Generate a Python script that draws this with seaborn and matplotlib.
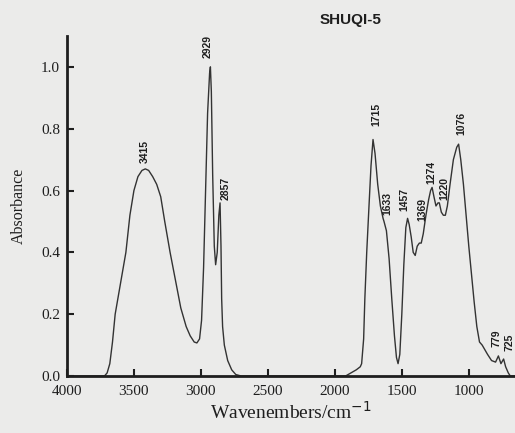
import matplotlib
matplotlib.use("Agg")
import matplotlib.pyplot as plt
import seaborn as sns

# spectrum points (wavenumber cm-1, absorbance)
wavenumber = [4000, 3800, 3720, 3700, 3680, 3660, 3640, 3600, 3560, 3530,
              3500, 3470, 3440, 3415, 3390, 3360, 3330, 3300, 3270, 3230,
              3190, 3150, 3110, 3080, 3050, 3030, 3010, 2995, 2980, 2965,
              2950, 2935, 2929, 2922, 2912, 2900, 2890, 2878, 2866, 2857,
              2850, 2845, 2838, 2825, 2800, 2770, 2740, 2700, 1920, 1880,
              1840, 1810, 1800, 1785, 1776, 1762, 1745, 1730, 1715, 1700,
              1680, 1660, 1640, 1633, 1615, 1595, 1575, 1555, 1540, 1528,
              1515, 1500, 1485, 1470, 1457, 1445, 1430, 1415, 1400, 1385,
              1369, 1355, 1340, 1320, 1300, 1285, 1274, 1260, 1245, 1230,
              1220, 1205, 1190, 1175, 1160, 1140, 1115, 1090, 1076, 1060,
              1040, 1020, 1000, 980, 960, 940, 920, 900, 880, 860,
              830, 800, 779, 760, 740, 725, 705, 690, 655]
absorbance = [0.0, 0.0, 0.0, 0.01, 0.04, 0.11, 0.20, 0.30, 0.40, 0.52,
              0.60, 0.645, 0.665, 0.67, 0.665, 0.645, 0.62, 0.58, 0.50, 0.40,
              0.31, 0.22, 0.16, 0.13, 0.11, 0.107, 0.12, 0.18, 0.35, 0.60,
              0.85, 0.98, 1.0, 0.92, 0.65, 0.42, 0.36, 0.40, 0.52, 0.56,
              0.42, 0.25, 0.16, 0.10, 0.05, 0.02, 0.005, 0.0, 0.0, 0.01,
              0.02, 0.03, 0.04, 0.12, 0.25, 0.40, 0.55, 0.68, 0.765, 0.72,
              0.62, 0.55, 0.51, 0.50, 0.47, 0.38, 0.25, 0.13, 0.06, 0.04,
              0.07, 0.20, 0.36, 0.48, 0.51, 0.49, 0.45, 0.40, 0.39, 0.42,
              0.43, 0.43, 0.46, 0.52, 0.57, 0.60, 0.61, 0.58, 0.55, 0.56,
              0.56, 0.53, 0.52, 0.52, 0.55, 0.62, 0.70, 0.74, 0.75, 0.70,
              0.62, 0.52, 0.42, 0.33, 0.24, 0.16, 0.11, 0.10, 0.085, 0.07,
              0.05, 0.045, 0.065, 0.04, 0.055, 0.03, 0.01, 0.0, 0.0]

# peak annotations: label, x position, bottom of text
peak_labels = ["3415", "2929", "2857", "1715", "1633", "1457", "1369",
               "1274", "1220", "1076", "779", "725"]
peak_x = [3418, 2948, 2814, 1687, 1605, 1478, 1344, 1277, 1180, 1053, 792, 695]
peak_y = [0.69, 1.03, 0.57, 0.81, 0.52, 0.535, 0.50, 0.62, 0.57, 0.78, 0.095, 0.08]

sns.set_style("ticks")
plt.rcParams['font.family'] = ['Liberation Serif', 'DejaVu Serif']
bg = '#ebebea'
ink = '#1e1e1e'

fig = plt.figure(figsize=(5.15, 4.33), dpi=100, facecolor=bg)
ax = fig.add_axes([0.130, 0.1316, 0.87, 0.7854], facecolor=bg)

sns.lineplot(x=wavenumber, y=absorbance, ax=ax, color='#333333', linewidth=1.0)

ax.set_xlim(4000, 655)
ax.set_ylim(0, 1.1)
ax.set_xticks([4000, 3500, 3000, 2500, 2000, 1500, 1000])
ax.set_yticks([0.0, 0.2, 0.4, 0.6, 0.8, 1.0])
ax.set_yticklabels(['0.0', '0.2', '0.4', '0.6', '0.8', '1.0'])
ax.tick_params(direction='in', length=5, width=1.5, labelsize=11, colors=ink)
ax.tick_params(axis='x', pad=6.5)
ax.tick_params(axis='y', pad=5)

for side in ['top', 'right']:
    ax.spines[side].set_visible(False)
for side in ['left', 'bottom']:
    ax.spines[side].set_linewidth(2)
    ax.spines[side].set_color(ink)

ax.set_xlabel('Wavenembers/cm$^{-1}$', fontsize=14, labelpad=2, color=ink)
ax.set_ylabel('Absorbance', fontsize=11.5, labelpad=10, color=ink)

for lab, x, y in zip(peak_labels, peak_x, peak_y):
    ax.text(x, y, lab, rotation=90, ha='center', va='bottom', fontsize=7.5,
            fontweight='bold', family=['Liberation Sans', 'DejaVu Sans'], color=ink)

fig.text(0.68, 0.953, 'SHUQI-5', ha='center', va='center', fontsize=11,
         fontweight='bold', family=['Liberation Sans', 'DejaVu Sans'], color=ink)

fig.savefig('out.png', dpi=100, facecolor=bg)
